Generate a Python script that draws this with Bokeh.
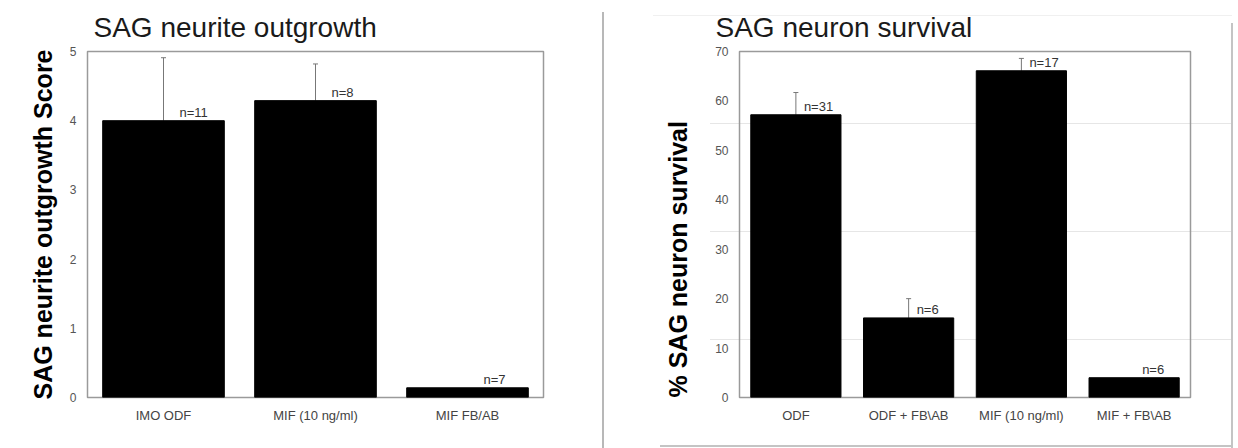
from bokeh.plotting import figure
from bokeh.layouts import row
from bokeh.models import (ColumnDataSource, Range1d, FactorRange, Whisker, TeeHead, Title)
from bokeh.core.properties import value
from bokeh.embed import file_html
from bokeh.resources import INLINE

# ---------------- data ----------------
growth_categories = ["IMO ODF", "MIF (10 ng/ml)", "MIF FB/AB"]
growth_scores = [4.0, 4.29, 0.14]
growth_errors = [0.91, 0.53, 0.0]
growth_n = ["n=11", "n=8", "n=7"]
growth_ticks = [0, 1, 2, 3, 4, 5]

survival_categories = ["ODF", "ODF + FB\\AB", "MIF (10 ng/ml)", "MIF + FB\\AB"]
survival_pct = [57.2, 16.1, 66.1, 4.0]
survival_errors = [4.5, 3.9, 2.5, 0.0]
survival_n = ["n=31", "n=6", "n=17", "n=6"]
survival_ticks = [0, 10, 20, 30, 40, 50, 60, 70]

FONT = "Liberation Sans"
H = 448


def make_chart(cats, vals, errs, ns, ticks, title, ylabel, width,
               fl, fr, ft, fb, title_offset, n_offset, ylab_align, ylab_offset, ylab_standoff):
    p = figure(x_range=FactorRange(factors=cats, range_padding=0),
               y_range=Range1d(0, ticks[-1]),
               width=width, height=H, output_backend="svg", toolbar_location=None,
               min_border_left=fl, min_border_right=width - fr,
               min_border_top=ft, min_border_bottom=H - fb)
    src = ColumnDataSource(dict(cat=cats, val=vals, n=ns))
    p.vbar(x="cat", top="val", width=0.8, source=src,
           fill_color="black", line_color="black")
    ec = [c for c, e in zip(cats, errs) if e > 0]
    ev = [v for v, e in zip(vals, errs) if e > 0]
    eu = [v + e for v, e in zip(vals, errs) if e > 0]
    esrc = ColumnDataSource(dict(cat=ec, low=ev, up=eu))
    p.add_layout(Whisker(base="cat", lower="low", upper="up", source=esrc,
                         dimension="height", line_color="#777777", line_width=1,
                         upper_head=TeeHead(size=5, line_color="#777777", line_width=1),
                         lower_head=None))
    p.text(x="cat", y="val", text="n", source=src, x_offset=n_offset, y_offset=-1,
           text_align="left", text_baseline="bottom", text_font=value(FONT),
           text_font_size="13px", text_color="#333333")

    p.title.text = title
    p.title.text_font = FONT
    p.title.text_font_size = "28px"
    p.title.text_font_style = "normal"
    p.title.text_color = "#1a1a1a"
    p.title.align = "left"
    p.title.offset = title_offset
    p.title.standoff = 18

    p.xaxis.major_label_text_font = FONT
    p.xaxis.major_label_text_font_size = "13px"
    p.xaxis.major_label_text_color = "#444444"
    p.xaxis.major_label_standoff = 4
    p.yaxis.ticker = ticks
    p.yaxis.major_label_text_font = FONT
    p.yaxis.major_label_text_font_size = "12px"
    p.yaxis.major_label_text_color = "#555555"
    p.yaxis.major_label_standoff = 5
    for ax in (p.xaxis, p.yaxis):
        ax.axis_line_color = None
        ax.major_tick_line_color = None
        ax.minor_tick_line_color = None
    p.xgrid.grid_line_color = None
    p.ygrid.grid_line_color = None
    p.outline_line_color = "#9a9a9a"
    p.outline_line_width = 1.5

    p.add_layout(Title(text=ylabel, align=ylab_align, offset=ylab_offset,
                       standoff=ylab_standoff, text_font=FONT, text_font_size="25px",
                       text_font_style="bold", text_color="black"), "left")
    return p


p1 = make_chart(growth_categories, growth_scores, growth_errors, growth_n, growth_ticks,
                "SAG neurite outgrowth", "SAG neurite outgrowth Score", 602,
                87, 543, 50, 402, 6, 16, "center", 0, 20)

p2 = make_chart(survival_categories, survival_pct, survival_errors, survival_n, survival_ticks,
                "SAG neuron survival", "% SAG neuron survival", 636,
                137, 588, 51, 397, -24, 8, "left", 0, 42)

# page decorations behind the right panel (divider, box edges, faint table rules)
p2.border_fill_color = None
p2.background_fill_color = None


def rule(color, x, y, w, h):
    return f"linear-gradient({color},{color}) {x}px {y}px / {w}px {h}px no-repeat"


p2.styles = {
    "background": ", ".join([
        rule("#b8b8b8", 0, 12, 2, 436),
        rule("#c4c4c4", 629, 23, 2, 425),
        rule("#c4c4c4", 58, 445, 573, 2),
        rule("#f0f0f0", 51, 15, 579, 1),
        rule("#e6e6e6", 108, 123, 522, 1),
        rule("#e6e6e6", 108, 231, 522, 1),
        rule("#e6e6e6", 108, 339, 522, 1),
    ]) + ", #ffffff"
}

layout = row(p1, p2)
open("out.html", "w").write(file_html(layout, INLINE))
